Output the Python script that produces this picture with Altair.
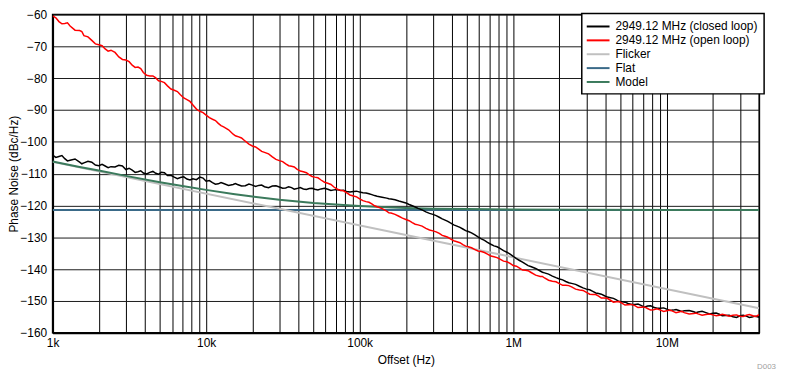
import altair as alt
import pandas as pd

# ---------------- data ----------------
freq = [
    1000, 1100, 1200, 1300, 1500, 1600, 1800, 2000, 2200, 2400, 2700, 3000,
    3300, 3600, 3900, 4300, 4700, 5100, 5600, 6200, 6800, 7500, 8200, 9100,
    10000, 11000, 12000, 13000, 15000, 16000, 18000, 20000, 22000, 24000, 27000, 30000,
    33000, 36000, 39000, 43000, 47000, 51000, 56000, 62000, 68000, 75000, 82000, 91000,
    100000, 110000, 120000, 130000, 150000, 160000, 180000, 200000, 220000, 240000, 270000, 300000,
    330000, 360000, 390000, 430000, 470000, 510000, 560000, 620000, 680000, 750000, 820000, 910000,
    1000000, 1100000, 1200000, 1300000, 1500000, 1600000, 1800000, 2000000, 2200000, 2400000, 2700000, 3000000,
    3300000, 3600000, 3900000, 4300000, 4700000, 5100000, 5600000, 6200000, 6800000, 7500000, 8200000, 9100000,
    10000000, 11000000, 12000000, 13000000, 15000000, 16000000, 18000000, 20000000, 22000000, 24000000,
    27000000, 30000000, 33000000, 36000000, 39000000, 40000000,
]
freq_mid = [
    1050, 1150, 1250, 1400, 1550, 1700, 1900, 2100, 2300, 2550, 2850, 3150,
    3450, 3750, 4100, 4500, 4900, 5350, 5900, 6500, 7150, 7850, 8650, 9550,
    10500, 11500, 12500, 14000, 15500, 17000, 19000, 21000, 23000, 25500, 28500, 31500,
    34500, 37500, 41000, 45000, 49000, 53500, 59000, 65000, 71500, 78500, 86500, 95500,
    105000, 115000, 125000, 140000, 155000, 170000, 190000, 210000, 230000, 255000, 285000, 315000,
    345000, 375000, 410000, 450000, 490000, 535000, 590000, 650000, 715000, 785000, 865000, 955000,
    1050000, 1150000, 1250000, 1400000, 1550000, 1700000, 1900000, 2100000, 2300000, 2550000, 2850000, 3150000,
    3450000, 3750000, 4100000, 4500000, 4900000, 5350000, 5900000, 6500000, 7150000, 7850000, 8650000, 9550000,
    10500000, 11500000, 12500000, 14000000, 15500000, 17000000, 19000000, 21000000, 23000000, 25500000,
    28500000, 31500000, 34500000, 37500000, 39500000,
]

open_loop = [
    -60.4, -62.2, -62.8, -63.6, -65.0, -66.6, -68.1, -69.5, -70.8, -71.2, -73.3, -74.3,
    -75.9, -76.5, -78.2, -79.3, -79.9, -81.0, -82.4, -83.8, -85.2, -86.7, -88.4, -90.4,
    -91.6, -92.9, -94.2, -95.3, -97.6, -98.3, -99.8, -101.3, -102.3, -103.3, -104.7, -105.9,
    -106.9, -107.7, -108.6, -109.4, -110.4, -111.1, -112.0, -113.0, -114.2, -115.2, -116.0, -117.0,
    -117.9, -118.8, -119.5, -120.4, -121.8, -122.4, -123.4, -124.4, -125.4, -126.1, -127.2, -128.0,
    -128.8, -129.7, -130.5, -131.4, -132.3, -133.0, -133.8, -134.5, -135.3, -136.1, -136.9, -137.7,
    -138.9, -139.7, -140.4, -141.0, -142.3, -142.8, -143.8, -144.6, -145.1, -145.6, -146.6, -147.3,
    -148.0, -148.5, -149.1, -149.8, -150.3, -150.7, -151.2, -151.5, -152.0, -152.4, -152.8, -152.9,
    -153.1, -153.3, -153.5, -153.7, -154.0, -154.1, -154.3, -154.4, -154.5, -154.4,
    -154.5, -154.8, -154.5, -154.6, -154.7, -154.6,
]
open_loop_mid = [
    -61.0, -62.9, -62.6, -64.9, -65.3, -67.0, -69.2, -69.8, -71.5, -71.9, -74.1, -74.8,
    -76.6, -77.0, -79.1, -79.3, -80.8, -81.4, -83.4, -84.2, -86.2, -87.3, -89.7, -90.8,
    -92.4, -93.3, -94.9, -96.2, -98.1, -98.8, -100.7, -101.6, -103.0, -103.8, -105.5, -106.2,
    -107.5, -107.9, -109.2, -109.7, -110.9, -111.3, -112.7, -113.4, -114.9, -115.4, -116.7, -117.3,
    -118.5, -119.0, -120.1, -121.0, -122.3, -122.8, -124.0, -124.8, -125.9, -126.5, -127.7, -128.3,
    -129.4, -130.0, -131.1, -131.7, -132.8, -133.3, -134.3, -134.8, -135.9, -136.4, -137.5, -138.2,
    -139.1, -140.3, -140.5, -141.9, -142.3, -143.5, -144.0, -145.1, -145.2, -146.3, -146.7, -147.9,
    -148.0, -149.1, -149.2, -150.4, -150.2, -151.3, -151.1, -152.1, -151.9, -152.9, -152.5, -153.3,
    -152.9, -153.7, -153.3, -154.1, -153.8, -154.5, -154.1, -154.7, -154.2, -154.8,
    -154.4, -154.9, -154.3, -154.9, -154.4,
]

closed_loop = [
    -104.2, -104.6, -105.3, -105.8, -106.4, -106.6, -106.4, -107.5, -107.6, -107.8, -107.4, -108.7,
    -108.9, -109.4, -109.8, -109.6, -109.9, -109.6, -110.6, -111.1, -111.2, -111.7, -111.6, -111.1,
    -112.4, -112.8, -113.2, -113.1, -113.4, -113.4, -113.8, -113.6, -113.7, -114.1, -113.9, -114.2,
    -114.5, -114.4, -114.7, -114.8, -114.7, -114.9, -114.8, -114.9, -115.1, -115.3, -115.6, -115.6,
    -115.8, -116.1, -116.6, -117.1, -117.7, -118.0, -118.6, -119.2, -120.1, -120.9, -122.0, -122.8,
    -123.7, -124.6, -125.5, -126.5, -127.4, -128.2, -129.2, -130.5, -131.6, -132.7, -133.5, -134.7,
    -136.0, -137.3, -138.4, -139.2, -140.6, -141.2, -142.2, -143.1, -143.9, -144.5, -145.4, -146.3,
    -147.0, -147.7, -148.3, -149.0, -149.7, -150.3, -150.8, -151.1, -151.4, -151.6, -152.0, -152.3,
    -152.6, -152.9, -153.0, -153.1, -153.4, -153.5, -153.7, -153.9, -154.2, -154.6,
    -155.0, -154.7, -154.8, -155.1, -155.0, -154.9,
]
closed_loop_mid = [
    -104.9, -104.3, -106.0, -105.4, -106.9, -106.1, -107.3, -107.1, -108.1, -107.9, -107.6, -108.3,
    -109.6, -109.1, -110.1, -109.3, -110.2, -109.7, -110.5, -111.6, -111.0, -112.0, -111.9, -111.4,
    -112.2, -113.3, -112.8, -113.7, -113.1, -113.9, -113.3, -114.0, -113.6, -114.4, -113.8, -114.6,
    -114.1, -114.9, -114.4, -115.0, -114.6, -115.1, -114.6, -115.3, -115.0, -115.2, -115.8, -115.5,
    -116.0, -116.3, -116.9, -117.4, -117.9, -118.2, -118.9, -119.7, -120.5, -121.4, -122.5, -123.2,
    -124.2, -125.0, -126.1, -126.9, -127.9, -128.6, -129.9, -131.0, -132.2, -133.0, -134.2, -135.3,
    -136.7, -137.8, -138.9, -139.8, -141.0, -141.6, -142.7, -143.4, -144.3, -144.8, -145.9, -146.5,
    -147.5, -147.9, -148.8, -149.2, -150.2, -150.4, -151.1, -151.0, -152.0, -151.5, -152.3, -152.2,
    -153.0, -152.7, -153.3, -153.0, -153.7, -153.3, -154.1, -153.8, -154.7, -154.5,
    -155.2, -154.5, -155.2, -154.8, -155.1,
]

flicker_freq = [1000, 40000000]
flicker_db = [-106.3, -152.3]

flat_freq = [1000, 40000000]
flat_db = [-121.4, -121.4]

model_freq = [1000, 1500, 2000, 3000, 5000, 7000, 10000, 15000, 20000, 30000, 50000,
              70000, 100000, 150000, 200000, 300000, 500000, 1000000, 3000000, 10000000, 40000000]
model_db = [-106.2, -107.9, -109.0, -110.7, -112.7, -113.9, -115.1, -116.4, -117.2, -118.2, -119.2,
            -119.7, -120.2, -120.6, -120.8, -121.0, -121.15, -121.3, -121.37, -121.4, -121.4]

series_names = ["2949.12 MHz (closed loop)", "2949.12 MHz (open loop)", "Flicker", "Flat", "Model"]
series_colors = ["#000000", "#ff0000", "#c0c0c0", "#3a6a88", "#3b7a5c"]

grid_x = [1000, 2000, 3000, 4000, 5000, 6000, 7000, 8000, 9000,
          10000, 20000, 30000, 40000, 50000, 60000, 70000, 80000, 90000,
          100000, 200000, 300000, 400000, 500000, 600000, 700000, 800000, 900000,
          1000000, 2000000, 3000000, 4000000, 5000000, 6000000, 7000000, 8000000, 9000000,
          10000000, 20000000, 30000000, 40000000]
decade_vals = [1000, 10000, 100000, 1000000, 10000000]
decade_labels = ["1k", "10k", "100k", "1M", "10M"]
y_ticks = [-160, -150, -140, -130, -120, -110, -100, -90, -80, -70, -60]

# ---------------- frames ----------------
def frame(fs, vs, name):
    return pd.DataFrame({"f": fs, "db": vs, "series": name})

df_closed = pd.concat([frame(freq, closed_loop, series_names[0]),
                       frame(freq_mid, closed_loop_mid, series_names[0])]).sort_values("f")
df_open = pd.concat([frame(freq, open_loop, series_names[1]),
                     frame(freq_mid, open_loop_mid, series_names[1])]).sort_values("f")
df_flicker = frame(flicker_freq, flicker_db, series_names[2])
df_flat = frame(flat_freq, flat_db, series_names[3])
df_model = frame(model_freq, model_db, series_names[4])

label_expr = "".join(
    f"datum.value == {v} ? '{l}' : " for v, l in zip(decade_vals, decade_labels)
) + "''"

x_enc = alt.X(
    "f:Q",
    scale=alt.Scale(type="log", domain=[1000, 40000000], nice=False),
    axis=alt.Axis(
        values=grid_x, labelExpr=label_expr, title="Offset (Hz)",
        grid=True, gridColor="#000000", gridWidth=1, gridOpacity=1,
        ticks=False, labelFlush=False, labelOverlap=False, labelBound=False,
        labelPadding=5, titleY=27, titleBaseline="middle",
        domainColor="#000000", domainWidth=2,
    ),
)
y_enc = alt.Y(
    "db:Q",
    scale=alt.Scale(domain=[-160, -60], nice=False, zero=False),
    axis=alt.Axis(
        values=y_ticks, title="Phase Noise (dBc/Hz)",
        grid=True, gridColor="#1a1a1a", gridWidth=1, gridOpacity=1,
        ticks=False, labelPadding=6,
        titleX=-39, titleBaseline="middle",
        domainColor="#000000", domainWidth=2,
    ),
)
color_enc = alt.Color(
    "series:N",
    scale=alt.Scale(domain=series_names, range=series_colors),
    legend=alt.Legend(
        title=None, orient="none", legendX=534, legendY=-1,
        symbolType="M-1.33,0H2.5", symbolSize=144, symbolStrokeWidth=2,
        labelOffset=14, labelFontSize=12, labelColor="#000000",
        rowPadding=1, padding=6,
        strokeColor="#000000", fillColor="#ffffff",
    ),
)

def line(df, width):
    return alt.Chart(df).mark_line(strokeWidth=width, clip=True).encode(
        x=x_enc, y=y_enc, color=color_enc, order=alt.Order("f:Q")
    )

chart = alt.layer(
    line(df_flat, 2),
    line(df_flicker, 2),
    line(df_model, 2),
    line(df_closed, 1.5),
    line(df_open, 1.5),
).properties(
    width=713, height=321,
    autosize=alt.AutoSizeParams(type="none"),
    padding={"left": 45, "top": 5, "right": 18, "bottom": 37},
    title=alt.TitleParams("D003", orient="bottom", anchor="end", frame="group",
                          fontSize=8, color="#a0a0a0", fontWeight="normal",
                          offset=4, dx=17, dy=-6),
).configure(
    font="Liberation Sans",
).configure_axis(
    labelFont="Liberation Sans", labelFontSize=12, labelColor="#000000",
    titleFont="Liberation Sans", titleFontSize=12, titleColor="#000000",
    titleFontWeight="normal",
).configure_legend(
    labelFont="Liberation Sans", strokeWidth=1.5,
).configure_view(
    stroke="#000000", strokeWidth=1.5,
)

chart.save("out.html", embed_options={"renderer": "svg", "actions": False})
